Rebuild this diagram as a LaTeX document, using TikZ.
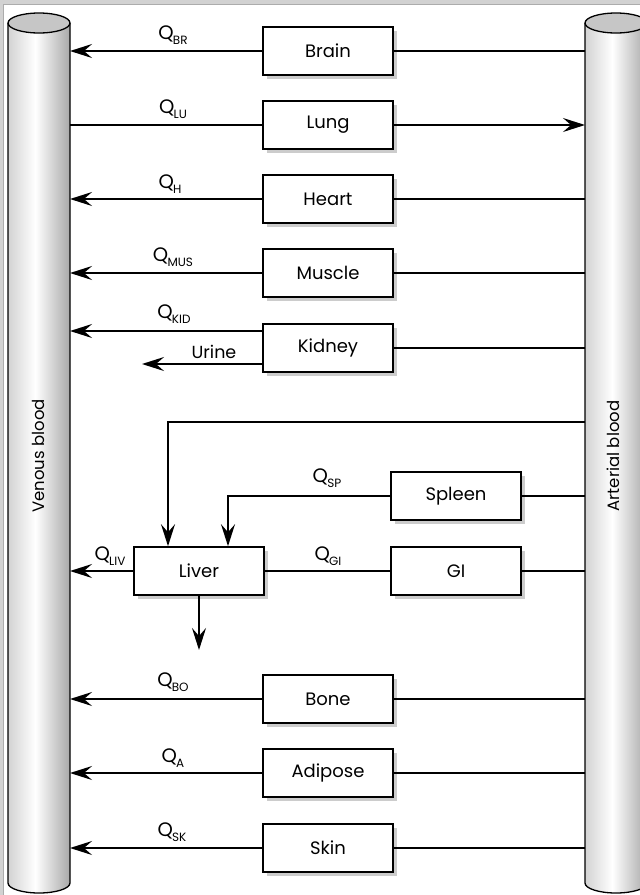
\documentclass[tikz,border=0pt]{standalone}
\usepackage{fontspec}
\setmainfont{Poppins}
\usetikzlibrary{arrows.meta,shadows}
\pgfdeclarehorizontalshading{cylshade}{100bp}{color(0bp)=(gray!35); color(25bp)=(gray!35); color(47bp)=(white); color(75bp)=(gray!68); color(100bp)=(gray!68)}
\newcommand\Qsub[1]{{\fontsize{19.5}{21}\selectfont Q}\kern-0.8pt\raisebox{-5.5pt}{\fontsize{12}{13}\selectfont #1}}
\begin{document}
\begin{tikzpicture}[x=1pt,y=-1pt,
  organ/.style={draw, line width=1.6pt, fill=white, minimum width=130pt, minimum height=48pt, inner sep=0pt,
    font=\fontsize{18}{20}\selectfont,
    drop shadow={shadow xshift=4pt, shadow yshift=-4pt, fill=gray!40, opacity=1}},
  flow/.style={line width=1.8pt},
  arr/.style={flow, -{Stealth[length=22pt,width=14pt,inset=8pt]}},
  lab/.style={font=\fontsize{17.5}{19}\selectfont, inner sep=0pt},
  vlab/.style={font=\fontsize{16.5}{18}\selectfont, inner sep=0pt, rotate=90},
  cylbody/.style={shading=cylshade},
  cyltop/.style={fill=gray!45, draw=black, line width=1.3pt},
  cylline/.style={draw=black, line width=1.3pt}]
\useasboundingbox (0,0) rectangle (640,895);
\clip (0,0) rectangle (640,895);
% frame
\fill[gray!35] (0,0) rectangle (640,895);
\fill[white] (4,5) rectangle (640,895);
\draw[gray!65, line width=0.8pt] (3.5,895) -- (3.5,4.5) -- (640,4.5);
% venous cylinder
\shade[cylbody] (8,23) -- (8,883) .. controls (8,888.5) and (21.9,893) .. (39,893) .. controls (56.1,893) and (70,888.5) .. (70,883) -- (70,23) -- cycle;
\draw[cylline] (8,23) -- (8,883) .. controls (8,888.5) and (21.9,893) .. (39,893) .. controls (56.1,893) and (70,888.5) .. (70,883) -- (70,23);
\draw[cyltop] (39,23) ellipse [x radius=31, y radius=10];
% arterial cylinder
\shade[cylbody] (585,23) -- (585,883) .. controls (585,888.5) and (598.9,893) .. (616,893) .. controls (633.1,893) and (647,888.5) .. (647,883) -- (647,23) -- cycle;
\draw[cylline] (585,23) -- (585,883) .. controls (585,888.5) and (598.9,893) .. (616,893) .. controls (633.1,893) and (647,888.5) .. (647,883) -- (647,23);
\draw[cyltop] (616,23) ellipse [x radius=31, y radius=10];
\node[vlab] (venlab) at (38,456) {Venous blood};
\node[vlab] (artlab) at (613,456) {Arterial blood};
\coordinate (venE) at (70,460);
\coordinate (artW) at (585,460);
% organs
\node[organ] (brain) at (328,51) {Brain};
\node[organ] (lung) at (328,125) {Lung};
\node[organ] (heart) at (328,199) {Heart};
\node[organ] (muscle) at (328,273) {Muscle};
\node[organ] (kidney) at (328,348) {Kidney};
\node[organ] (spleen) at (456,496) {Spleen};
\node[organ] (gi) at (456,571) {GI};
\node[organ] (liver) at (199,571) {Liver};
\node[organ] (bone) at (328,699) {Bone};
\node[organ] (adipose) at (328,773) {Adipose};
\node[organ] (skin) at (328,848) {Skin};
% standard flows
\foreach \o in {brain,heart,muscle,kidney,bone,adipose,skin}{
  \draw[flow] (artW |- \o) -- (\o.east);
}
\foreach \o in {brain,heart,muscle,bone,adipose,skin}{
  \draw[arr] (\o.west) -- (venE |- \o);
}
% lung
\draw[flow] (venE |- lung) -- (lung.west);
\draw[arr] (lung.east) -- (artW |- lung);
% kidney
\coordinate (kidup) at ([yshift=17pt]kidney.west);
\coordinate (kiddn) at ([yshift=-16pt]kidney.west);
\coordinate (urineEnd) at (142,364);
\draw[arr] (kidup) -- (venE |- kidup);
\draw[arr] (kiddn) -- (urineEnd);
% hepatic
\coordinate (hepA) at (585,422);
\coordinate (hepIn) at ([xshift=-31pt]liver.north);
\coordinate (spIn) at ([xshift=29pt]liver.north);
\draw[arr] (hepA) -| (hepIn);
\draw[flow] (artW |- spleen) -- (spleen.east);
\draw[arr] (spleen.west) -| (spIn);
\draw[flow] (artW |- gi) -- (gi.east);
\draw[flow] (gi.west) -- (liver.east);
\draw[arr] (liver.west) -- (venE |- liver);
\coordinate (bile) at (199,650);
\draw[arr] (liver.south) -- (bile);
% labels
\node[lab] (qbr) at (173,35) {\Qsub{BR}};
\node[lab] (qlu) at (173,109) {\Qsub{LU}};
\node[lab] (qh) at (170,184) {\Qsub{H}};
\node[lab] (qmus) at (173,257) {\Qsub{MUS}};
\node[lab] (qkid) at (174,314) {\Qsub{KID}};
\node[lab] (urine) at (214,352) {Urine};
\node[lab] (qsp) at (327,478) {\Qsub{SP}};
\node[lab] (qgi) at (328,556) {\Qsub{GI}};
\node[lab] (qliv) at (110,556) {\Qsub{LIV}};
\node[lab] (qbo) at (173,682) {\Qsub{BO}};
\node[lab] (qa) at (173,758) {\Qsub{A}};
\node[lab] (qsk) at (172,832) {\Qsub{SK}};
\end{tikzpicture}
\end{document}
